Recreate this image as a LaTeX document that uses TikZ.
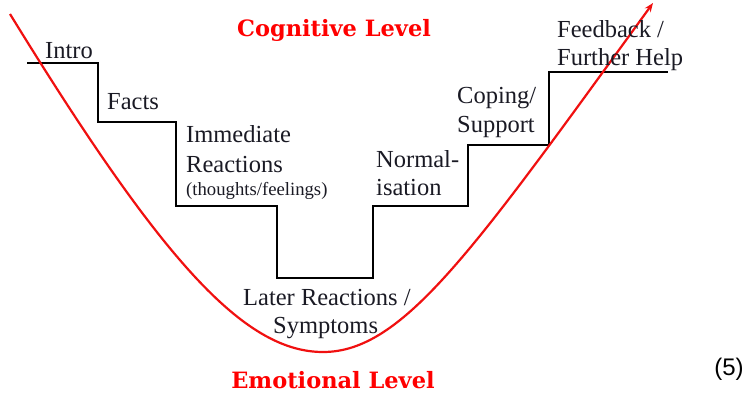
\documentclass[tikz,border=0pt]{standalone}
\usepackage{fontspec}
\setmainfont{Liberation Serif}
\newfontfamily\levelfont{DejaVu Serif}
\newfontfamily\numfont{Liberation Sans}
\usetikzlibrary{arrows.meta}
\definecolor{txt}{HTML}{1A1A24}
\definecolor{redline}{HTML}{F01010}
\tikzset{
  stair/.style={line width=2.6pt, black, line join=miter},
  curve/.style={line width=2.2pt, redline, -{Stealth[length=9pt,width=7pt]}},
  lab/.style={anchor=base west, inner sep=0pt, text=txt, font=\fontsize{24.5}{29.5}\selectfont, align=left},
  small/.style={anchor=base west, inner sep=0pt, text=txt, font=\fontsize{18.7}{22}\selectfont},
  level/.style={anchor=base, inner sep=0pt, text=red, font=\levelfont\bfseries\fontsize{22.5}{26}\selectfont},
}
\begin{document}
\begin{tikzpicture}[x=1pt,y=-1pt]
\useasboundingbox (0,0) rectangle (747,394);
% staircase
\draw[stair] (27,63) -- (98,63) -- (98,122) -- (176,122) -- (176,206) -- (277,206)
  -- (277,278) -- (373,278) -- (373,206) -- (468,206) -- (468,145) -- (549,145)
  -- (549,72) -- (668,72);
% red curve
\coordinate (cstart) at (10,14);
\coordinate (cbottom) at (323,352);
\coordinate (cend) at (653,3);
\draw[curve] (cstart) .. controls (160,258) and (243,352) .. (cbottom)
  .. controls (403,352) and (473,251) .. (cend);
% labels
\node[lab] (intro) at (45,58) {Intro};
\node[lab] (facts) at (107,109) {Facts};
\node[lab] (imm1) at (186,142) {Immediate};
\node[lab] (imm2) at (186,172) {Reactions};
\node[small] (imm3) at (186,195) {(thoughts/feelings)};
\node[lab] (norm1) at (376,167) {Normal-};
\node[lab] (norm2) at (376,195) {isation};
\node[lab] (cop1) at (457,103) {Coping/};
\node[lab] (cop2) at (457,132) {Support};
\node[lab] (fb1) at (557,37) {Feedback /};
\node[lab] (fb2) at (557,65) {Further Help};
\node[lab] (lat1) at (243,305) {Later Reactions /};
\node[lab] (lat2) at (273,333) {Symptoms};
\node[level] (cog) at (334,36) {Cognitive Level};
\node[level] (emo) at (333,388) {Emotional Level};
\node[anchor=base, inner sep=0pt, font=\numfont\fontsize{24}{28}\selectfont] (five) at (729,375) {(5)};
\end{tikzpicture}
\end{document}
